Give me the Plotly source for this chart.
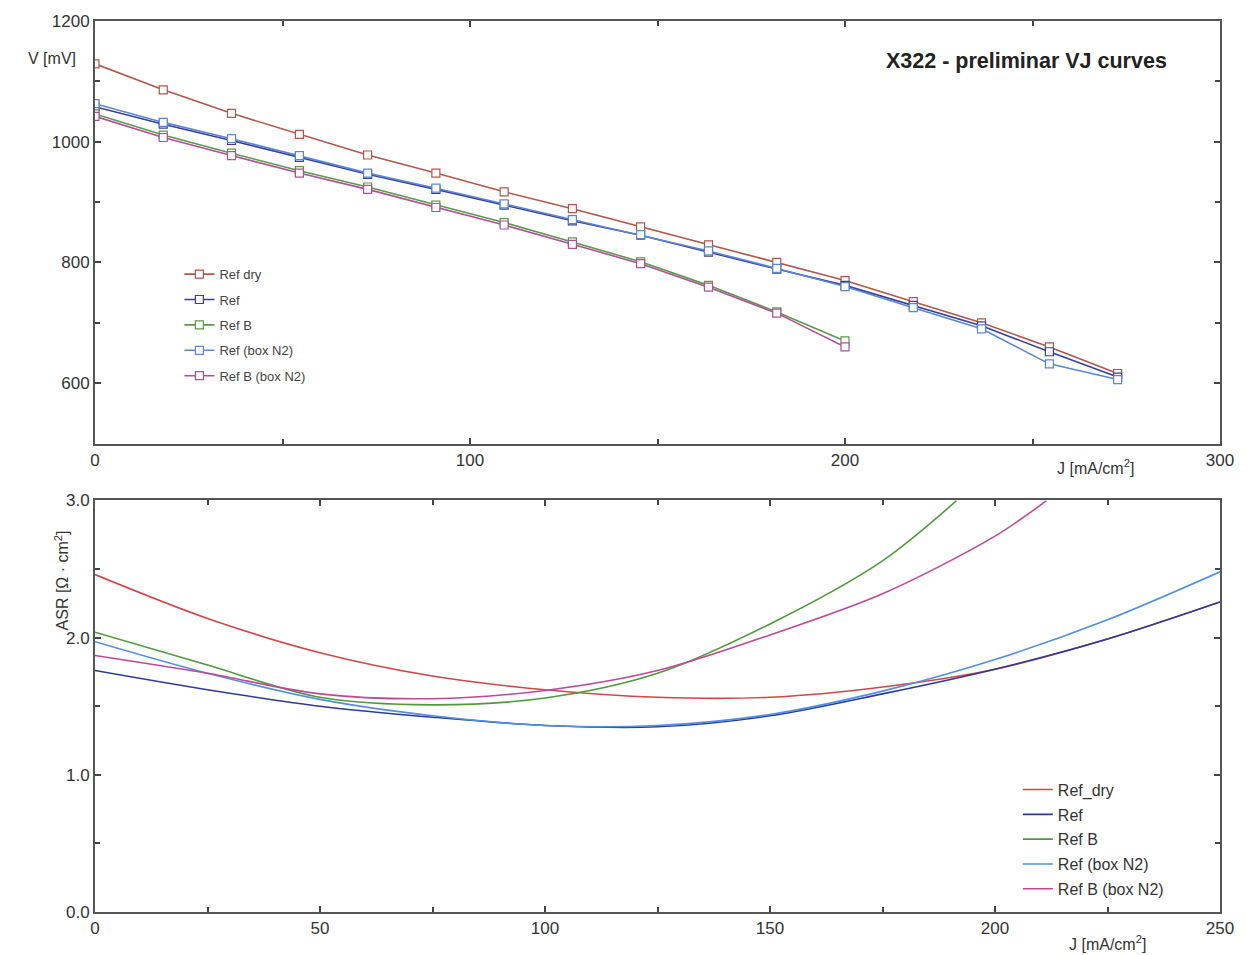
import plotly.graph_objects as go

# ---------------- Top chart data (VJ curves) ----------------
J_vj = [0, 18.2, 36.4, 54.5, 72.7, 90.9, 109.1, 127.3, 145.5, 163.6, 181.8, 200, 218.2, 236.4, 254.5, 272.7]
J_vj_b = J_vj[:12]
V_ref_dry = [1129, 1086, 1047, 1012, 978, 948, 917, 889, 859, 829, 800, 770, 735, 700, 660, 616]
V_ref = [1058, 1029, 1002, 974, 946, 921, 895, 869, 845, 817, 789, 762, 729, 695, 652, 610]
V_ref_box = [1063, 1032, 1005, 977, 948, 923, 897, 871, 846, 819, 790, 760, 725, 690, 632, 606]
V_refb = [1046, 1011, 981, 952, 925, 895, 866, 834, 801, 762, 718, 670]
V_refb_box = [1042, 1007, 977, 948, 921, 891, 862, 830, 798, 759, 716, 660]

# ---------------- Bottom chart data (ASR) ----------------
J_asr = [0, 25, 50, 75, 100, 125, 150, 175, 200, 225, 250]
ASR_ref_dry = [2.46, 2.14, 1.89, 1.72, 1.62, 1.565, 1.565, 1.64, 1.77, 1.99, 2.26]
ASR_ref = [1.76, 1.62, 1.50, 1.42, 1.36, 1.35, 1.43, 1.59, 1.77, 1.99, 2.26]
ASR_ref_box = [1.97, 1.74, 1.55, 1.43, 1.36, 1.36, 1.44, 1.61, 1.84, 2.13, 2.48]
J_asr_b = [0, 25, 50, 75, 100, 125, 150, 175, 191.5]
ASR_refb = [2.04, 1.80, 1.565, 1.51, 1.56, 1.74, 2.10, 2.56, 3.0]
J_asr_bb = [0, 25, 50, 75, 100, 125, 150, 175, 200, 211.5]
ASR_refb_box = [1.87, 1.74, 1.59, 1.555, 1.615, 1.76, 2.02, 2.32, 2.74, 3.0]

top_names = ["Ref dry", "Ref", "Ref B", "Ref (box N2)", "Ref B (box N2)"]
bot_names = ["Ref_dry", "Ref", "Ref B", "Ref (box N2)", "Ref B (box N2)"]
top_colors = ["#b4564a", "#3a3f9c", "#5a9a48", "#5a86d8", "#b0509a"]
bot_colors = ["#d64545", "#2b3a9e", "#4f9a3c", "#4f8fe6", "#c0479a"]

FONT = "Liberation Sans, Arial, Helvetica, sans-serif"
fig = go.Figure()

top_x = [J_vj, J_vj, J_vj_b, J_vj, J_vj_b]
top_y = [V_ref_dry, V_ref, V_refb, V_ref_box, V_refb_box]
for i in range(5):
    fig.add_trace(go.Scatter(
        x=top_x[i], y=top_y[i], mode="lines+markers", name=top_names[i],
        line=dict(color=top_colors[i], width=1.6),
        marker=dict(symbol="square", size=8, color="white",
                    line=dict(color=top_colors[i], width=1.2)),
        xaxis="x", yaxis="y", legend="legend", legendgroup="t%d" % i,
    ))

bot_x = [J_asr, J_asr, J_asr_b, J_asr, J_asr_bb]
bot_y = [ASR_ref_dry, ASR_ref, ASR_refb, ASR_ref_box, ASR_refb_box]
for i in range(5):
    fig.add_trace(go.Scatter(
        x=bot_x[i], y=bot_y[i], mode="lines", name=bot_names[i],
        line=dict(color=bot_colors[i], width=1.6, shape="spline", smoothing=0.9),
        xaxis="x2", yaxis="y2", legend="legend2", legendgroup="b%d" % i,
        cliponaxis=True,
    ))

axis_common = dict(
    showline=True, linecolor="#555555", linewidth=2, mirror="allticks",
    ticks="inside", ticklen=6, tickwidth=1.5, tickcolor="#444444",
    showgrid=False, zeroline=False,
    tickfont=dict(family=FONT, size=17, color="#333333"),
)

fig.update_layout(
    width=1246, height=955,
    margin=dict(l=95, r=24, t=20, b=43),
    paper_bgcolor="white", plot_bgcolor="white",
    font=dict(family=FONT, color="#333333"),
    xaxis=dict(domain=[0, 1], anchor="y", range=[0, 300], dtick=100, tick0=0,
               minor=dict(dtick=50, ticks="inside", ticklen=5, tickcolor="#444444"),
               **axis_common),
    yaxis=dict(domain=[0.5258, 1], anchor="x", range=[500, 1200], dtick=200, tick0=0,
               minor=dict(dtick=100, ticks="inside", ticklen=5, tickcolor="#444444"),
               **axis_common),
    xaxis2=dict(domain=[0, 1], anchor="y2", range=[0, 250], dtick=50, tick0=0,
                minor=dict(dtick=25, ticks="inside", ticklen=5, tickcolor="#444444"),
                **axis_common),
    yaxis2=dict(domain=[0, 0.4619], anchor="x2", range=[0, 3], dtick=1, tick0=0,
                tickformat=".1f",
                minor=dict(dtick=0.5, ticks="inside", ticklen=5, tickcolor="#444444"),
                **axis_common),
    legend=dict(x=0.075, y=0.7327, xanchor="left", yanchor="top",
                bgcolor="rgba(0,0,0,0)", traceorder="grouped", tracegroupgap=5.5,
                font=dict(family=FONT, size=13, color="#444444")),
    legend2=dict(x=0.8203, y=0.1564, xanchor="left", yanchor="top",
                 bgcolor="rgba(0,0,0,0)", traceorder="grouped", tracegroupgap=1,
                 font=dict(family=FONT, size=16, color="#333333")),
    showlegend=True,
)

def px_x(p):
    return (p - 95) / 1127

def px_y(p):
    return (912 - p) / 892

fig.add_annotation(text="<b>X322 - preliminar VJ curves</b>", xref="paper", yref="paper",
                   x=px_x(1028), y=px_y(60), xanchor="center", yanchor="middle",
                   showarrow=False, font=dict(family=FONT, size=21.5, color="#222222"))
fig.add_annotation(text="V [mV]", xref="paper", yref="paper",
                   x=px_x(78), y=px_y(58), xanchor="right", yanchor="middle",
                   showarrow=False, font=dict(family=FONT, size=16, color="#333333"))
fig.add_annotation(text="J [mA/cm<sup>2</sup>]", xref="paper", yref="paper",
                   x=px_x(1097), y=px_y(466), xanchor="center", yanchor="middle",
                   showarrow=False, font=dict(family=FONT, size=16, color="#333333"))
fig.add_annotation(text="ASR [Ω · cm<sup>2</sup>]", xref="paper", yref="paper",
                   x=px_x(62), y=px_y(580), xanchor="center", yanchor="middle",
                   textangle=-90, showarrow=False,
                   font=dict(family=FONT, size=16, color="#333333"))
fig.add_annotation(text="J [mA/cm<sup>2</sup>]", xref="paper", yref="paper",
                   x=px_x(1109), y=px_y(943), xanchor="center", yanchor="middle",
                   showarrow=False, font=dict(family=FONT, size=16, color="#333333"))

fig.write_html("out.html")
